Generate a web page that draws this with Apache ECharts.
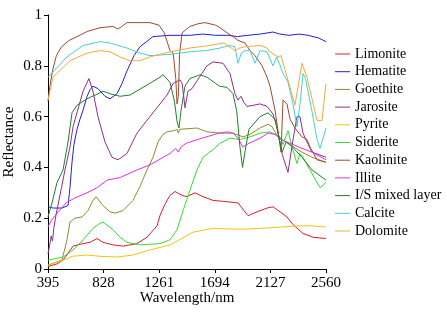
<!DOCTYPE html>
<html>
<head>
<meta charset="utf-8">
<script src="https://cdn.jsdelivr.net/npm/echarts@6/dist/echarts.min.js"></script>
<style>
  html, body { margin: 0; padding: 0; background: #fff; }
  #chart { width: 447px; height: 315px; }
</style>
</head>
<body>
<div id="chart"></div>
<script>
// x ticks (nm)
var xTicks = [395, 828, 1261, 1694, 2127, 2560];

// spectra: [wavelength nm, reflectance]
var limonite = [[395,0.01],[465,0.02],[512,0.035],[590,0.09],[668,0.10],[722,0.105],[777,0.12],[823,0.105],[901,0.095],[979,0.09],[1088,0.10],[1166,0.125],[1244,0.17],[1267,0.21],[1306,0.255],[1345,0.29],[1384,0.305],[1439,0.29],[1478,0.285],[1540,0.30],[1602,0.285],[1680,0.27],[1789,0.265],[1875,0.26],[1929,0.225],[1953,0.21],[2023,0.225],[2101,0.24],[2147,0.245],[2202,0.225],[2256,0.205],[2303,0.175],[2381,0.14],[2459,0.125],[2560,0.12]];
var hematite = [[395,0.245],[435,0.24],[505,0.24],[551,0.25],[566,0.32],[582,0.42],[597,0.49],[621,0.55],[644,0.59],[668,0.625],[699,0.68],[722,0.705],[745,0.72],[784,0.71],[839,0.68],[878,0.67],[932,0.69],[971,0.73],[1010,0.78],[1065,0.84],[1111,0.875],[1213,0.915],[1345,0.92],[1500,0.92],[1600,0.925],[1700,0.92],[1800,0.92],[1870,0.915],[1950,0.92],[2050,0.925],[2147,0.933],[2200,0.925],[2270,0.92],[2350,0.925],[2420,0.92],[2500,0.91],[2560,0.895]];
var goethite = [[395,0.015],[504,0.035],[543,0.115],[566,0.185],[605,0.20],[660,0.205],[706,0.23],[745,0.27],[769,0.285],[823,0.25],[878,0.225],[917,0.22],[979,0.23],[1057,0.27],[1111,0.325],[1166,0.39],[1213,0.44],[1252,0.50],[1290,0.53],[1322,0.54],[1380,0.545],[1400,0.55],[1410,0.535],[1420,0.55],[1555,0.555],[1633,0.54],[1735,0.535],[1836,0.535],[1914,0.52],[1968,0.53],[2046,0.555],[2108,0.57],[2140,0.56],[2186,0.52],[2264,0.495],[2373,0.46],[2451,0.44],[2560,0.42]];
var jarosite = [[395,0.06],[410,0.10],[420,0.13],[430,0.11],[440,0.16],[460,0.22],[500,0.32],[527,0.39],[566,0.48],[590,0.56],[668,0.70],[714,0.75],[745,0.70],[784,0.60],[839,0.50],[893,0.44],[940,0.43],[1010,0.455],[1088,0.535],[1189,0.60],[1322,0.685],[1369,0.73],[1423,0.745],[1440,0.73],[1462,0.635],[1485,0.70],[1516,0.71],[1555,0.74],[1633,0.80],[1680,0.815],[1758,0.81],[1812,0.77],[1851,0.69],[1875,0.665],[1898,0.68],[1922,0.655],[1945,0.64],[1999,0.645],[2046,0.65],[2101,0.64],[2147,0.61],[2178,0.56],[2220,0.45],[2264,0.38],[2300,0.50],[2334,0.60],[2357,0.60],[2381,0.535],[2412,0.50],[2451,0.46],[2560,0.44]];
var pyrite = [[395,0.015],[512,0.035],[543,0.04],[582,0.05],[699,0.055],[800,0.05],[932,0.047],[1057,0.055],[1189,0.075],[1345,0.095],[1400,0.11],[1524,0.145],[1680,0.16],[1836,0.157],[1945,0.157],[2046,0.16],[2202,0.165],[2357,0.17],[2450,0.17],[2560,0.165]];
var siderite = [[395,0.035],[512,0.047],[590,0.075],[668,0.115],[745,0.16],[800,0.18],[823,0.185],[901,0.155],[956,0.125],[1010,0.105],[1111,0.095],[1267,0.10],[1345,0.115],[1400,0.155],[1447,0.23],[1500,0.31],[1555,0.39],[1602,0.44],[1680,0.47],[1735,0.495],[1812,0.515],[1890,0.51],[1968,0.52],[2046,0.535],[2124,0.54],[2202,0.52],[2225,0.49],[2264,0.545],[2295,0.48],[2334,0.415],[2357,0.455],[2381,0.44],[2435,0.39],[2513,0.32],[2560,0.34]];
var kaolinite = [[395,0.66],[410,0.72],[430,0.78],[460,0.84],[500,0.875],[560,0.90],[621,0.915],[700,0.935],[800,0.95],[900,0.955],[940,0.945],[970,0.955],[1010,0.97],[1100,0.97],[1189,0.97],[1260,0.96],[1300,0.93],[1345,0.86],[1370,0.85],[1390,0.75],[1400,0.65],[1410,0.68],[1420,0.85],[1440,0.93],[1500,0.955],[1560,0.965],[1617,0.97],[1700,0.96],[1735,0.95],[1789,0.93],[1850,0.91],[1875,0.90],[1929,0.89],[1968,0.86],[2007,0.84],[2062,0.80],[2101,0.755],[2124,0.72],[2163,0.625],[2186,0.545],[2210,0.46],[2225,0.665],[2256,0.65],[2280,0.59],[2318,0.555],[2373,0.52],[2412,0.51],[2435,0.48],[2490,0.43],[2560,0.42]];
var illite = [[395,0.165],[419,0.19],[473,0.225],[535,0.26],[605,0.28],[699,0.30],[777,0.32],[854,0.35],[956,0.36],[1088,0.39],[1189,0.41],[1345,0.455],[1390,0.475],[1410,0.46],[1430,0.48],[1470,0.495],[1594,0.515],[1727,0.535],[1789,0.54],[1836,0.535],[1875,0.515],[1914,0.48],[1960,0.495],[2046,0.515],[2108,0.535],[2163,0.53],[2210,0.51],[2303,0.49],[2373,0.475],[2451,0.46],[2560,0.43]];
var isMixed = [[395,0.205],[426,0.26],[465,0.34],[512,0.39],[551,0.50],[582,0.615],[621,0.645],[699,0.67],[784,0.69],[823,0.70],[878,0.69],[956,0.68],[1034,0.685],[1135,0.715],[1267,0.755],[1290,0.765],[1345,0.735],[1380,0.66],[1400,0.58],[1415,0.555],[1430,0.62],[1462,0.72],[1500,0.75],[1580,0.765],[1633,0.755],[1730,0.72],[1789,0.715],[1836,0.69],[1865,0.62],[1890,0.48],[1910,0.40],[1935,0.48],[1960,0.55],[2046,0.60],[2108,0.615],[2163,0.59],[2200,0.50],[2217,0.46],[2250,0.50],[2300,0.48],[2373,0.44],[2451,0.39],[2560,0.35]];
var calcite = [[395,0.755],[543,0.835],[668,0.88],[800,0.895],[878,0.89],[1010,0.87],[1111,0.85],[1189,0.84],[1345,0.845],[1500,0.855],[1633,0.86],[1735,0.87],[1812,0.88],[1850,0.875],[1875,0.81],[1900,0.85],[1929,0.86],[1968,0.86],[2007,0.81],[2046,0.86],[2101,0.855],[2147,0.80],[2178,0.835],[2225,0.77],[2264,0.735],[2303,0.65],[2334,0.56],[2360,0.66],[2381,0.77],[2400,0.75],[2451,0.62],[2490,0.51],[2513,0.475],[2540,0.52],[2560,0.555]];
var dolomite = [[395,0.665],[434,0.755],[566,0.82],[699,0.85],[800,0.86],[878,0.855],[956,0.835],[1034,0.82],[1111,0.82],[1189,0.835],[1345,0.855],[1500,0.87],[1656,0.88],[1765,0.89],[1850,0.86],[1890,0.87],[1930,0.875],[2046,0.88],[2101,0.87],[2124,0.855],[2186,0.835],[2210,0.84],[2240,0.785],[2280,0.715],[2318,0.645],[2373,0.81],[2412,0.755],[2490,0.585],[2529,0.585],[2560,0.73]];

var names = ['Limonite', 'Hematite', 'Goethite', 'Jarosite', 'Pyrite', 'Siderite', 'Kaolinite', 'Illite', 'I/S mixed layer', 'Calcite', 'Dolomite'];
var spectra = [limonite, hematite, goethite, jarosite, pyrite, siderite, kaolinite, illite, isMixed, calcite, dolomite];
var colors = ['#dc1e28', '#1f1fd6', '#8f8a2e', '#8e2e8e', '#f2c40c', '#33dd33', '#9c4b2b', '#e62ee6', '#1f7f2a', '#45cfd6', '#f4a93a'];

var font = 'Liberation Serif, Times New Roman, serif';
var myChart = echarts.init(document.getElementById('chart'));

var series = [];
for (var i = 0; i < names.length; i++) {
    series.push({
        name: names[i],
        type: 'line',
        data: spectra[i],
        symbol: 'none',
        lineStyle: { width: 1, color: colors[i] },
        itemStyle: { color: colors[i] }
    });
}

var option = {
    animation: false,
    grid: { left: 48, top: 15, right: 121, bottom: 46, outerBoundsMode: 'none' },
    legend: {
        orient: 'vertical',
        left: 335,
        top: 47,
        padding: 0,
        icon: 'rect',
        itemWidth: 15,
        itemHeight: 1,
        itemGap: 3.7,
        textStyle: { fontFamily: font, fontSize: 14, color: '#000', lineHeight: 14 },
        data: names
    },
    xAxis: {
        type: 'value',
        min: 395,
        max: 2560,
        name: 'Wavelength/nm',
        nameLocation: 'middle',
        nameMoveOverlap: false,
        nameGap: 22,
        nameTextStyle: { fontFamily: font, fontSize: 15, color: '#000' },
        axisLine: { lineStyle: { color: '#000', width: 1 } },
        axisTick: { show: true, length: 4, customValues: xTicks, lineStyle: { color: '#000' } },
        axisLabel: {
            customValues: xTicks, margin: 7, fontFamily: font, fontSize: 15, color: '#000',
            formatter: function(v) { return String(v); }
        },
        splitLine: { show: false }
    },
    yAxis: {
        type: 'value',
        min: 0,
        max: 1,
        interval: 0.2,
        name: 'Reflectance',
        nameLocation: 'middle',
        nameMoveOverlap: false,
        nameGap: 31,
        nameTextStyle: { fontFamily: font, fontSize: 15, color: '#000' },
        axisLine: { show: true, lineStyle: { color: '#000', width: 1 } },
        axisTick: { show: true, length: 4, lineStyle: { color: '#000' } },
        axisLabel: { margin: 6, fontFamily: font, fontSize: 15, color: '#000' },
        splitLine: { show: false }
    },
    series: series
};
myChart.setOption(option);
</script>
</body>
</html>
